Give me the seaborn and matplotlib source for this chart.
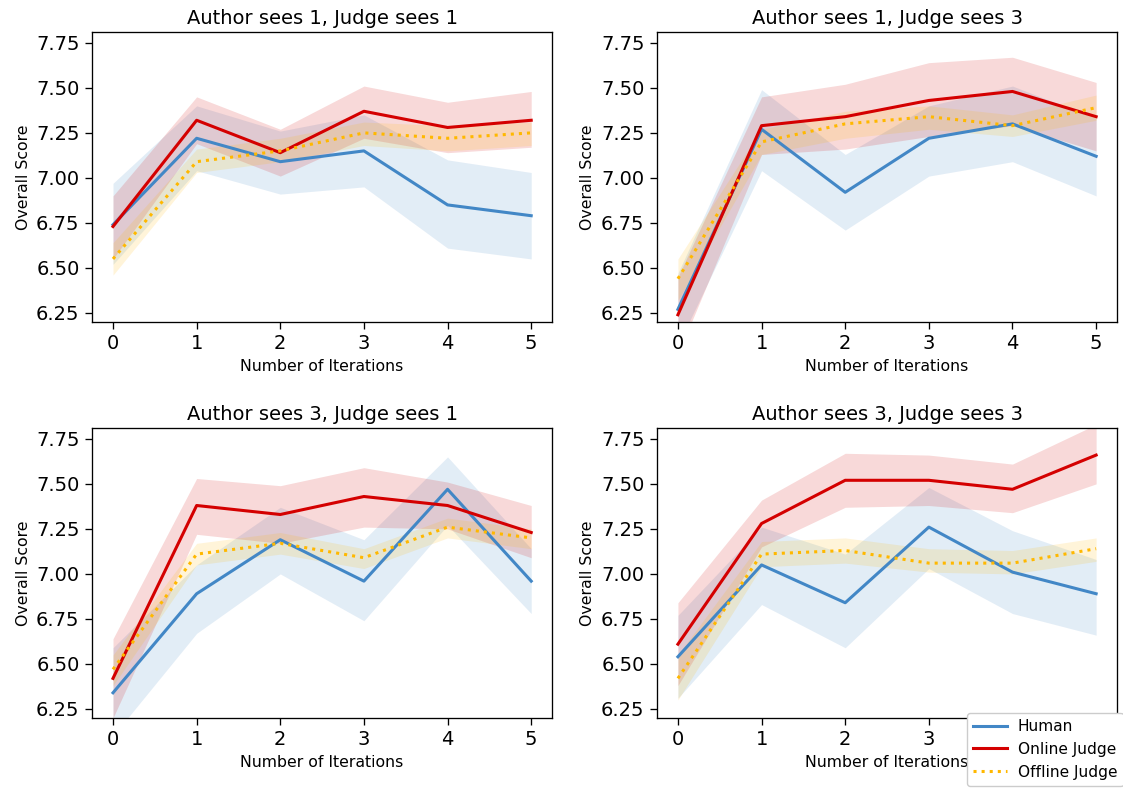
import pandas as pd
import matplotlib.pyplot as plt
import seaborn as sns

iterations = [0, 1, 2, 3, 4, 5]
series_names = ["Human", "Online Judge", "Offline Judge"]
titles = ["Author sees 1, Judge sees 1", "Author sees 1, Judge sees 3",
          "Author sees 3, Judge sees 1", "Author sees 3, Judge sees 3"]

# Author 1, Judge 1
h11_mid = [6.74, 7.22, 7.09, 7.15, 6.85, 6.79]
h11_lo = [6.52, 7.04, 6.91, 6.95, 6.61, 6.55]
h11_hi = [6.97, 7.40, 7.26, 7.35, 7.10, 7.03]
on11_mid = [6.73, 7.32, 7.14, 7.37, 7.28, 7.32]
on11_lo = [6.55, 7.19, 7.01, 7.22, 7.14, 7.17]
on11_hi = [6.90, 7.45, 7.27, 7.51, 7.42, 7.48]
off11_mid = [6.55, 7.09, 7.15, 7.25, 7.22, 7.25]
off11_lo = [6.46, 7.03, 7.09, 7.18, 7.15, 7.18]
off11_hi = [6.64, 7.16, 7.22, 7.31, 7.29, 7.31]

# Author 1, Judge 3
h13_mid = [6.27, 7.27, 6.92, 7.22, 7.30, 7.12]
h13_lo = [6.07, 7.04, 6.71, 7.01, 7.09, 6.90]
h13_hi = [6.47, 7.49, 7.13, 7.40, 7.51, 7.33]
on13_mid = [6.24, 7.29, 7.34, 7.43, 7.48, 7.34]
on13_lo = [6.02, 7.13, 7.16, 7.23, 7.29, 7.15]
on13_hi = [6.45, 7.45, 7.52, 7.64, 7.67, 7.53]
off13_mid = [6.44, 7.20, 7.30, 7.34, 7.29, 7.39]
off13_lo = [6.32, 7.13, 7.22, 7.27, 7.23, 7.32]
off13_hi = [6.55, 7.27, 7.37, 7.40, 7.35, 7.46]

# Author 3, Judge 1
h31_mid = [6.34, 6.89, 7.19, 6.96, 7.47, 6.96]
h31_lo = [6.10, 6.67, 7.00, 6.74, 7.27, 6.78]
h31_hi = [6.59, 7.05, 7.37, 7.19, 7.65, 7.14]
on31_mid = [6.42, 7.38, 7.33, 7.43, 7.38, 7.23]
on31_lo = [6.20, 7.22, 7.17, 7.26, 7.25, 7.09]
on31_hi = [6.64, 7.53, 7.49, 7.59, 7.51, 7.38]
off31_mid = [6.47, 7.11, 7.17, 7.09, 7.26, 7.20]
off31_lo = [6.38, 7.05, 7.11, 7.03, 7.20, 7.14]
off31_hi = [6.55, 7.17, 7.23, 7.14, 7.31, 7.25]

# Author 3, Judge 3
h33_mid = [6.54, 7.05, 6.84, 7.26, 7.01, 6.89]
h33_lo = [6.31, 6.83, 6.59, 7.03, 6.78, 6.66]
h33_hi = [6.77, 7.26, 7.11, 7.48, 7.24, 7.08]
on33_mid = [6.61, 7.28, 7.52, 7.52, 7.47, 7.66]
on33_lo = [6.38, 7.15, 7.37, 7.38, 7.34, 7.50]
on33_hi = [6.84, 7.41, 7.67, 7.66, 7.61, 7.83]
off33_mid = [6.42, 7.11, 7.13, 7.06, 7.06, 7.14]
off33_lo = [6.30, 7.04, 7.06, 7.01, 7.00, 7.07]
off33_hi = [6.55, 7.18, 7.20, 7.14, 7.13, 7.20]

panels = [
    [(h11_lo, h11_mid, h11_hi), (on11_lo, on11_mid, on11_hi), (off11_lo, off11_mid, off11_hi)],
    [(h13_lo, h13_mid, h13_hi), (on13_lo, on13_mid, on13_hi), (off13_lo, off13_mid, off13_hi)],
    [(h31_lo, h31_mid, h31_hi), (on31_lo, on31_mid, on31_hi), (off31_lo, off31_mid, off31_hi)],
    [(h33_lo, h33_mid, h33_hi), (on33_lo, on33_mid, on33_hi), (off33_lo, off33_mid, off33_hi)],
]

# long table: lo / mid / hi per point -> median = line, min..max = band
rows = []
for p, panel in enumerate(panels):
    for name, (lo, mid, hi) in zip(series_names, panel):
        for i, it in enumerate(iterations):
            for v in (lo[i], mid[i], hi[i]):
                rows.append({"panel": p, "series": name, "iteration": it, "score": v})
df = pd.DataFrame(rows)

palette = {"Human": "#4287c6", "Online Judge": "#d40000", "Offline Judge": "#ffb800"}
dashes = {"Human": "", "Online Judge": "", "Offline Judge": (1, 1.65)}

plt.rcParams["axes.linewidth"] = 0.95
plt.rcParams["xtick.major.size"] = 5
plt.rcParams["ytick.major.size"] = 5
plt.rcParams["xtick.major.width"] = 0.95
plt.rcParams["ytick.major.width"] = 0.95
plt.rcParams["xtick.major.pad"] = 4
plt.rcParams["ytick.major.pad"] = 4

fig, axes = plt.subplots(2, 2, figsize=(11.23, 7.89), dpi=100)
fig.subplots_adjust(left=0.082, right=0.9947, top=0.9594, bottom=0.09,
                    wspace=0.228, hspace=0.366)

for p, ax in enumerate(axes.flat):
    sub = df[df["panel"] == p]
    sns.lineplot(
        data=sub, x="iteration", y="score",
        hue="series", style="series",
        hue_order=series_names, style_order=series_names,
        palette=palette, dashes=dashes,
        estimator="median", errorbar=("pi", 100),
        err_kws={"alpha": 0.15, "linewidth": 0},
        linewidth=2.2, ax=ax, legend=(p == 3),
    )
    ax.set_title(titles[p], fontsize=14)
    ax.set_xlabel("Number of Iterations", fontsize=11.3)
    ax.set_ylabel("Overall Score", fontsize=11.3)
    ax.set_ylim(6.2, 7.81)
    ax.set_yticks([6.25, 6.5, 6.75, 7.0, 7.25, 7.5, 7.75])
    ax.set_xticks(iterations)
    ax.tick_params(labelsize=14)

handles, labels = axes[1, 1].get_legend_handles_labels()
axes[1, 1].get_legend().remove()
fig.legend(handles, labels, loc="upper left",
           bbox_to_anchor=(967 / 1123, 1 - 713 / 789), borderaxespad=0,
           fontsize=11.1, framealpha=1, handlelength=2.2, handletextpad=0.7)

plt.savefig("out.png", dpi=100)
